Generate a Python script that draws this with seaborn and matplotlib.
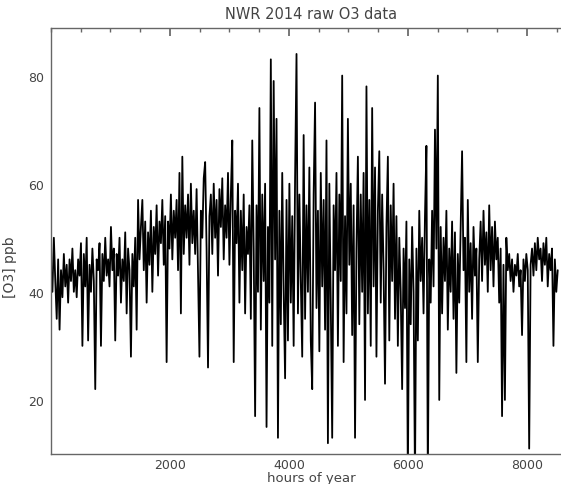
import numpy as np
import pandas as pd
import seaborn as sns
import matplotlib.pyplot as plt
from matplotlib.ticker import MultipleLocator

sns.set_theme(style="white")
plt.rcParams['font.family'] = ['DejaVu Sans']

# daily readings of the hourly O3 trace (ppb), one value every 24 h
o3_ppb = [
    44, 40, 50, 42, 35, 46, 33, 44, 39, 47,
    41, 45, 38, 46, 42, 48, 40, 44, 39, 46,
    43, 49, 30, 47, 41, 50, 31, 45, 40, 48,
    42, 22, 46, 44, 49, 30, 47, 42, 50, 43,
    46, 41, 52, 44, 48, 31, 47, 43, 50, 38,
    46, 42, 51, 36, 48, 44, 28, 47, 41, 50,
    33, 57, 46, 52, 57, 44, 53, 38, 51, 45,
    55, 40, 52, 47, 56, 43, 53, 49, 57, 45,
    54, 27, 53, 48, 58, 46, 55, 50, 57, 44,
    62, 36, 65, 47, 56, 50, 58, 45, 60, 49,
    55, 47, 59, 44, 28, 55, 50, 61, 64, 48,
    26, 54, 58, 47, 60, 50, 57, 43, 59, 52,
    61, 46, 56, 50, 62, 45, 58, 68, 27, 55,
    49, 60, 38, 55, 44, 58, 36, 52, 47, 56,
    35, 68, 48, 17, 56, 40, 74, 33, 58, 42,
    60, 15, 52, 38, 83, 30, 79, 46, 72, 13,
    55, 34, 62, 40, 24, 57, 31, 60, 38, 54,
    30, 61, 84, 36, 58, 42, 28, 69, 35, 56,
    40, 63, 31, 22, 58, 75, 37, 55, 29, 62,
    41, 57, 33, 68, 12, 60, 38, 13, 56, 44,
    62, 30, 58, 42, 80, 27, 54, 36, 72, 45,
    60, 32, 56, 13, 48, 65, 34, 58, 40, 62,
    20, 78, 36, 57, 30, 74, 41, 63, 28, 55,
    66, 38, 58, 44, 23, 52, 65, 31, 56, 42,
    60, 35, 54, 30, 50, 40, 22, 48, 37, 53,
    5, 46, 34, 52, 40, 5, 48, 31, 55, 42,
    50, 36, 54, 67, 5, 46, 38, 55, 41, 70,
    48, 80, 20, 52, 36, 50, 42, 55, 33, 48,
    40, 53, 35, 51, 25, 47, 38, 52, 66, 44,
    50, 27, 57, 40, 49, 35, 52, 43, 48, 27,
    46, 53, 42, 55, 45, 51, 40, 56, 44, 52,
    41, 53, 46, 50, 38, 48, 17, 45, 20, 50,
    44, 47, 42, 46, 40, 45, 43, 47, 41, 44,
    32, 46, 42, 47, 44, 11, 45, 48, 43, 49,
    44, 50, 46, 48, 42, 49, 45, 50, 41, 47,
    44, 48, 30, 46, 40, 44,
]
hours = np.arange(len(o3_ppb)) * 24

df = pd.DataFrame({"hour": hours, "o3": o3_ppb})

fig = plt.figure(figsize=(5.61, 4.85), dpi=100)
# the right edge of the plot box runs just past the picture edge
ax = fig.add_axes([51 / 561, 30 / 485, 521 / 561, 426 / 485])

sns.lineplot(data=df, x="hour", y="o3", color="black", linewidth=1.3, ax=ax)

ax.set_xlim(0, 8760)
ax.set_ylim(10, 88.8)
ax.xaxis.set_minor_locator(MultipleLocator(500))
ax.yaxis.set_minor_locator(MultipleLocator(5))
ax.set_xticks([2000, 4000, 6000, 8000])
ax.set_yticks([20, 40, 60, 80])

ax.tick_params(axis="both", which="both", direction="in", top=True, right=True,
               color="#666666", labelcolor="#444444", labelsize=9)
ax.tick_params(axis="x", which="major", length=6, pad=3)
ax.tick_params(axis="x", which="minor", length=3)
ax.tick_params(axis="y", which="major", length=8, pad=5)
ax.tick_params(axis="y", which="minor", length=4)
for s in ax.spines.values():
    s.set_color("#666666")
    s.set_linewidth(1)

ax.set_title("NWR 2014 raw O3 data", fontsize=10.5, color="#444444", pad=7)
ax.set_xlabel("hours of year", fontsize=9.5, color="#444444", labelpad=0)
ax.set_ylabel("[O3] ppb", fontsize=10, color="#444444", labelpad=6)
ax.yaxis.set_label_coords(-0.066, 0.44)

fig.savefig("out.png", dpi=100)
